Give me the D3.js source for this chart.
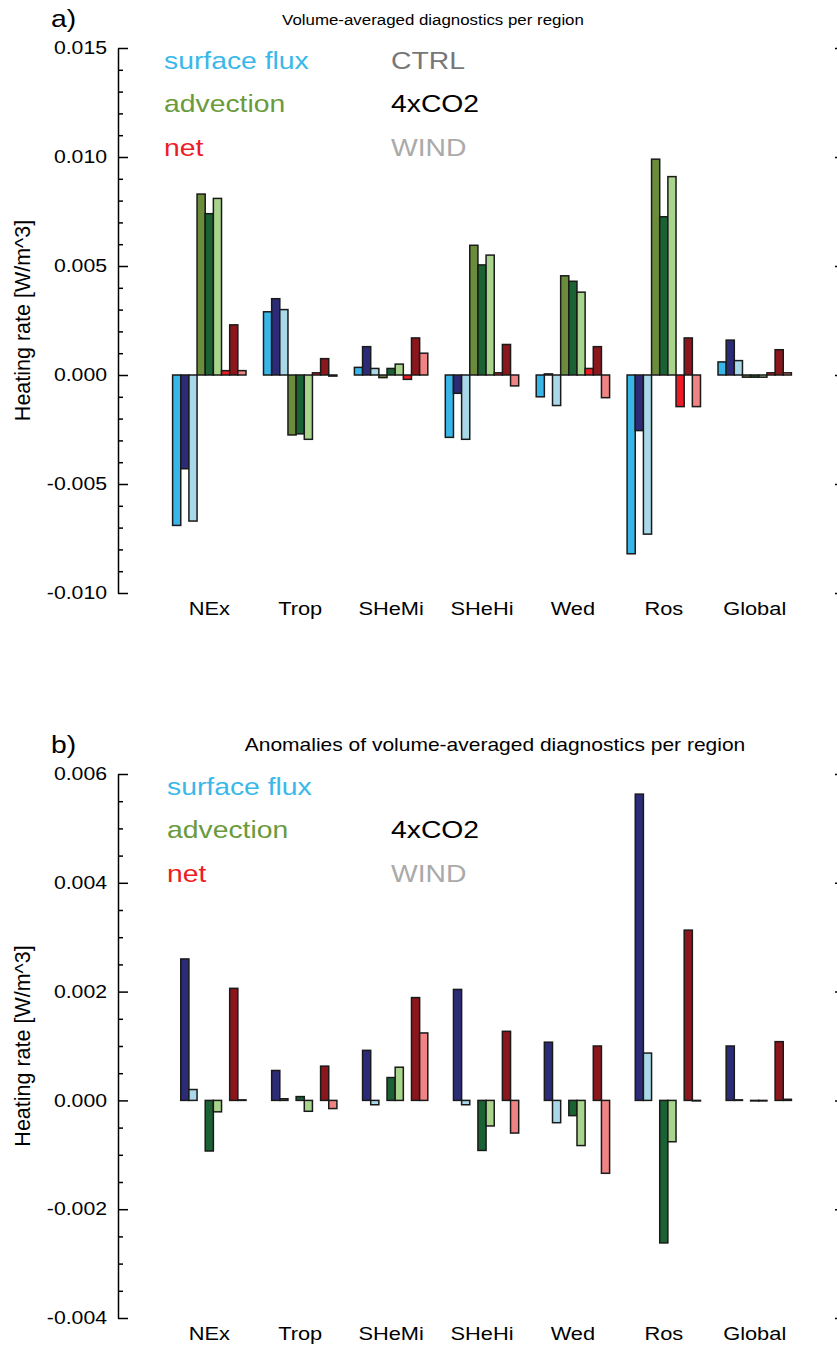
<!DOCTYPE html>
<html>
<head>
<meta charset="utf-8">
<script src="https://cdn.jsdelivr.net/npm/d3@7"></script>
<style>
  body { margin: 0; background: #fff; }
  svg { font-family: "Liberation Sans", Arial, sans-serif; }
</style>
</head>
<body>
<div id="chart"></div>
<script>
// categories
var regions = ["NEx", "Trop", "SHeMi", "SHeHi", "Wed", "Ros", "Global"]
var terms = ["surface flux", "advection", "net"]
var runs = ["CTRL", "4xCO2", "WIND"]

// panel a: volume-averaged diagnostics [W/m^3]
var sfCTRL  = [-0.0069, 0.0029, 0.00035, -0.00286, -0.0010, -0.0082, 0.0006]
var sf4x    = [-0.0043, 0.0035, 0.0013, -0.00084, 0.00005, -0.00255, 0.0016]
var sfWIND  = [-0.0067, 0.0030, 0.0003, -0.00295, -0.0014, -0.0073, 0.00066]
var advCTRL = [0.0083, -0.00275, -0.00012, 0.00595, 0.00455, 0.0099, -0.0001]
var adv4x   = [0.0074, -0.0027, 0.0003, 0.00505, 0.0043, 0.00726, -0.0001]
var advWIND = [0.0081, -0.00295, 0.0005, 0.0055, 0.0038, 0.0091, -0.0001]
var netCTRL = [0.0002, 0.0001, -0.0002, 0.0001, 0.0003, -0.00145, 0.0001]
var net4x   = [0.0023, 0.00075, 0.0017, 0.0014, 0.0013, 0.0017, 0.00116]
var netWIND = [0.0002, -0.00005, 0.0010, -0.0005, -0.00104, -0.00145, 0.0001]

// panel b: anomalies relative to CTRL
var sf4xAnom    = [0.0026, 0.00055, 0.00092, 0.00204, 0.00107, 0.00563, 0.0010]
var sfWINDAnom  = [0.0002, 0.00003, -0.00008, -0.00008, -0.00041, 0.00087, 0.00001]
var adv4xAnom   = [-0.00093, 0.00007, 0.00042, -0.00092, -0.00028, -0.00262, -0.00001]
var advWINDAnom = [-0.00021, -0.0002, 0.00061, -0.00047, -0.00083, -0.00076, -0.00001]
var net4xAnom   = [0.00206, 0.00063, 0.00189, 0.00127, 0.0010, 0.00313, 0.00108]
var netWINDAnom = [0.00001, -0.00015, 0.00124, -0.0006, -0.00134, -0.00001, 0.00002]

// tick values (in 0.001 units)
var ticksA = [-10, -5, 0, 5, 10, 15]
var ticksB = [-4, -2, 0, 2, 4, 6]

var termColor = {"surface flux": "#3ab8ea", "advection": "#6a9a3c", "net": "#ed1c24"}
var runColor = {"CTRL": "#777777", "4xCO2": "#000000", "WIND": "#aaaaaa"}
var barColor = {
  "surface flux": {"CTRL": "#39b6e8", "4xCO2": "#2b2b78", "WIND": "#a9d9e8"},
  "advection":    {"CTRL": "#6b8d3b", "4xCO2": "#1a6233", "WIND": "#a8d58b"},
  "net":          {"CTRL": "#ed1c24", "4xCO2": "#8b161b", "WIND": "#f08383"}
}

// the original figure is a bit wider than tall, text looks stretched
var SX = 1.18

var W = 837, H = 1349
var svg = d3.select("#chart").append("svg")
    .attr("width", W).attr("height", H)

// put a text at (x,y) with the horizontal stretch
function label(g, x, y, txt, size) {
  return g.append("text")
    .attr("transform", "translate(" + x + "," + y + ") scale(" + SX + ",1)")
    .style("font-size", size + "px")
    .text(txt)
}

// slots inside each region group
var slots = []
terms.forEach(function(t) { runs.forEach(function(r) { slots.push(t + "|" + r) }) })

var x = d3.scaleBand()
    .domain(regions)
    .range([163.85, 800.15])
    .paddingInner(0.1925)
    .paddingOuter(0.09625)
var xs = d3.scaleBand().domain(slots).range([0, x.bandwidth()])

function fmt(v) { return (v / 1000).toFixed(3) }

function panel(opts) {
  var g = svg.append("g")
  var y = d3.scaleLinear().domain(opts.domain).range(opts.range)

  // panel letter + title
  label(g, 51, opts.titleY, opts.letter, 24)
  label(g, opts.titleX, opts.titleY - 2, opts.title, opts.titleSize)
    .attr("text-anchor", "middle")

  // left axis
  var minor = d3.range(opts.ticks[0], opts.ticks[opts.ticks.length - 1] + 0.01, opts.minorStep)
      .filter(function(v) { return opts.ticks.indexOf(v) < 0 })
  var ym = d3.scaleLinear().domain(opts.domain.map(function(d) { return d * 1000 })).range(opts.range)

  var ax = g.append("g").attr("transform", "translate(118,0)")
    .call(d3.axisLeft(ym).tickValues(opts.ticks).tickSize(-10).tickSizeOuter(0)
      .tickPadding(11).tickFormat(fmt))
  ax.selectAll("text")
    .attr("x", -11 / SX)
    .attr("transform", "scale(" + SX + ",1)")
    .style("font-size", "18px")
    .style("font-family", "Liberation Sans, Arial, sans-serif")
  ax.selectAll("line, path").attr("stroke", "#000").attr("stroke-width", 1.5)

  var axm = g.append("g").attr("transform", "translate(118,0)")
    .call(d3.axisLeft(ym).tickValues(minor).tickSize(-5).tickFormat(""))
  axm.select(".domain").remove()
  axm.selectAll("line").attr("stroke", "#000").attr("stroke-width", 1.5)

  // right axis (just outside the frame)
  var axr = g.append("g").attr("transform", "translate(845,0)")
    .call(d3.axisRight(ym).tickValues(opts.ticks).tickSize(-10).tickSizeOuter(0).tickFormat(""))
  axr.selectAll("line, path").attr("stroke", "#000").attr("stroke-width", 1.5)

  // y label
  var mid = (opts.range[0] + opts.range[1]) / 2
  g.append("text")
    .attr("transform", "translate(30," + mid + ") rotate(-90)")
    .attr("text-anchor", "middle")
    .style("font-size", "21.5px")
    .text("Heating rate [W/m^3]")

  // region labels
  regions.forEach(function(r) {
    label(g, x(r) + x.bandwidth() / 2, opts.range[0] + 22, r, 18.5)
      .attr("text-anchor", "middle")
  })

  // bars
  var bars = []
  opts.series.forEach(function(s) {
    s.values.forEach(function(v, i) {
      bars.push({region: regions[i], term: s.term, run: s.run, value: v})
    })
  })
  g.append("g").selectAll("rect").data(bars).enter().append("rect")
    .attr("x", function(d) { return x(d.region) + xs(d.term + "|" + d.run) })
    .attr("width", xs.bandwidth())
    .attr("y", function(d) { return y(Math.max(0, d.value)) })
    .attr("height", function(d) { return Math.abs(y(d.value) - y(0)) })
    .attr("fill", function(d) { return barColor[d.term][d.run] })
    .attr("stroke", "#1a1a1a")
    .attr("stroke-width", 1.5)

  // legend
  var lg = g.append("g")
  terms.forEach(function(t, i) {
    label(lg, opts.legX, opts.legY + i * 43.4, t, 24).attr("fill", termColor[t])
  })
  opts.legRuns.forEach(function(r) {
    label(lg, 391, opts.legY + runs.indexOf(r) * 43.4, r, 24).attr("fill", runColor[r])
  })
}

panel({
  letter: "a)", title: "Volume-averaged diagnostics per region",
  titleX: 433, titleY: 27, titleSize: 14.3,
  domain: [-0.010, 0.015], range: [593, 48], ticks: ticksA, minorStep: 1,
  legX: 164, legY: 69, legRuns: ["CTRL", "4xCO2", "WIND"],
  series: [
    {term: "surface flux", run: "CTRL", values: sfCTRL},
    {term: "surface flux", run: "4xCO2", values: sf4x},
    {term: "surface flux", run: "WIND", values: sfWIND},
    {term: "advection", run: "CTRL", values: advCTRL},
    {term: "advection", run: "4xCO2", values: adv4x},
    {term: "advection", run: "WIND", values: advWIND},
    {term: "net", run: "CTRL", values: netCTRL},
    {term: "net", run: "4xCO2", values: net4x},
    {term: "net", run: "WIND", values: netWIND}
  ]
})

panel({
  letter: "b)", title: "Anomalies of volume-averaged diagnostics per region",
  titleX: 495, titleY: 753, titleSize: 17.8,
  domain: [-0.004, 0.006], range: [1318, 774], ticks: ticksB, minorStep: 0.5,
  legX: 167, legY: 795, legRuns: ["4xCO2", "WIND"],
  series: [
    {term: "surface flux", run: "4xCO2", values: sf4xAnom},
    {term: "surface flux", run: "WIND", values: sfWINDAnom},
    {term: "advection", run: "4xCO2", values: adv4xAnom},
    {term: "advection", run: "WIND", values: advWINDAnom},
    {term: "net", run: "4xCO2", values: net4xAnom},
    {term: "net", run: "WIND", values: netWINDAnom}
  ]
})
</script>
</body>
</html>
